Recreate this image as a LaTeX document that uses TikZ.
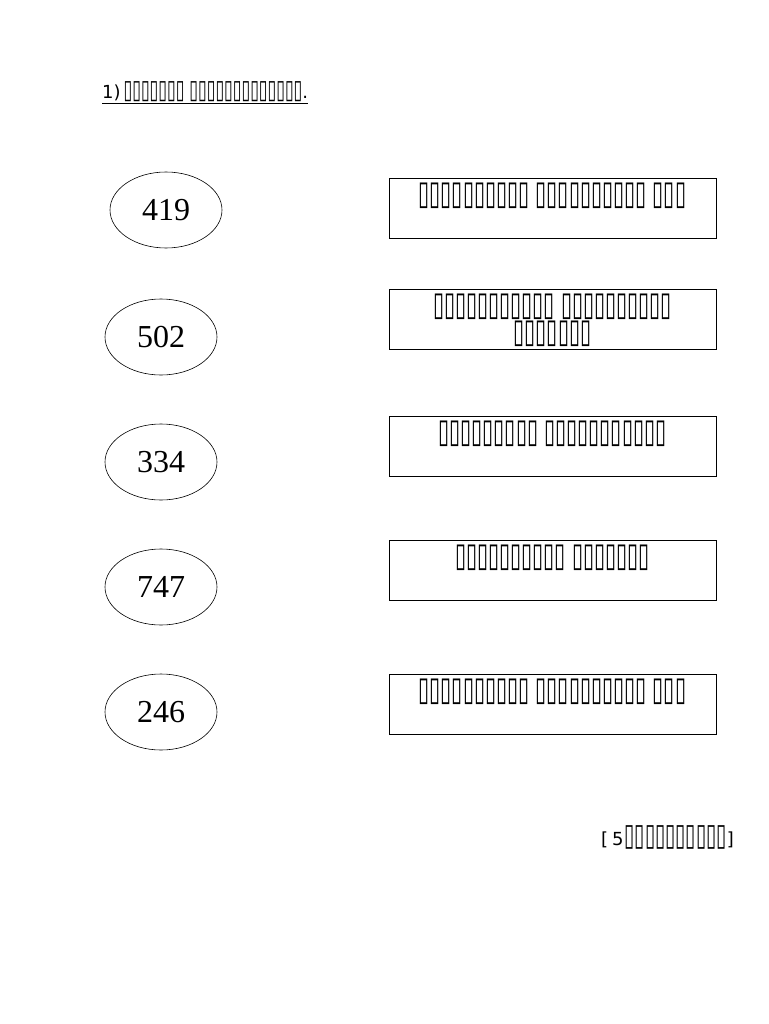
\documentclass[tikz,border=0pt]{standalone}
\usepackage{fontspec}
\setmainfont{Liberation Serif}
\newfontfamily\dvs{DejaVu Sans}
\newfontfamily\tofu[FakeStretch=0.6,Scale=1.72]{DejaVu Sans}
\begin{document}
\begin{tikzpicture}[x=1pt,y=-1pt,
  numoval/.style={draw,ellipse,line width=0.6pt,minimum width=112pt,minimum height=76pt,inner sep=0pt,font=\fontsize{32}{36}\selectfont},
  answerbox/.style={draw,rectangle,line width=0.6pt,minimum width=327pt,minimum height=60pt,inner sep=0pt},
  boxtext/.style={anchor=north,align=center,inner sep=0pt,font=\tofu\fontsize{19.5}{27}\selectfont},
  smalltext/.style={inner sep=0pt,font=\dvs\fontsize{18}{20}\selectfont}]
\usetikzlibrary{shapes.geometric}
\useasboundingbox (0,0) rectangle (768,1024);
\fill[white] (0,0) rectangle (768,1024);
% title
\node[smalltext,anchor=base west] (title) at (102,99) {\underline{1)\hspace{3pt}{\tofu\fontsize{15.3}{16}\selectfont ▯▯▯▯▯▯▯ ▯▯▯▯▯▯▯▯▯▯▯▯▯}.}};
% ovals
\node[numoval] (n1) at (166,210) {419};
\node[numoval] (n2) at (161,337) {502};
\node[numoval] (n3) at (161,462) {334};
\node[numoval] (n4) at (161,587) {747};
\node[numoval] (n5) at (161,712) {246};
% boxes
\node[answerbox] (r1) at (552.5,208) {};
\node[answerbox] (r2) at (552.5,319) {};
\node[answerbox] (r3) at (552.5,446.5) {};
\node[answerbox] (r4) at (552.5,570.5) {};
\node[answerbox] (r5) at (552.5,704) {};
\node[boxtext] (t1) at ([yshift=-5pt]r1.north) {▯▯▯▯▯▯▯▯▯▯ ▯▯▯▯▯▯▯▯▯▯ ▯▯▯};
\node[boxtext] (t2) at ([yshift=-5pt]r2.north) {▯▯▯▯▯▯▯▯▯▯▯ ▯▯▯▯▯▯▯▯▯▯\\▯▯▯▯▯▯▯};
\node[boxtext] (t3) at ([yshift=-5pt]r3.north) {▯▯▯▯▯▯▯▯▯ ▯▯▯▯▯▯▯▯▯▯▯};
\node[boxtext] (t4) at ([yshift=-5pt]r4.north) {▯▯▯▯▯▯▯▯▯▯ ▯▯▯▯▯▯▯};
\node[boxtext] (t5) at ([yshift=-5pt]r5.north) {▯▯▯▯▯▯▯▯▯▯ ▯▯▯▯▯▯▯▯▯▯ ▯▯▯};
% marks
\node[smalltext,anchor=base east] (marks) at (734,845) {[\hspace{4pt}5\hspace{1pt}{\tofu\fontsize{18}{20}\selectfont ▯▯▯▯▯▯▯▯▯▯}]};
\end{tikzpicture}
\end{document}
